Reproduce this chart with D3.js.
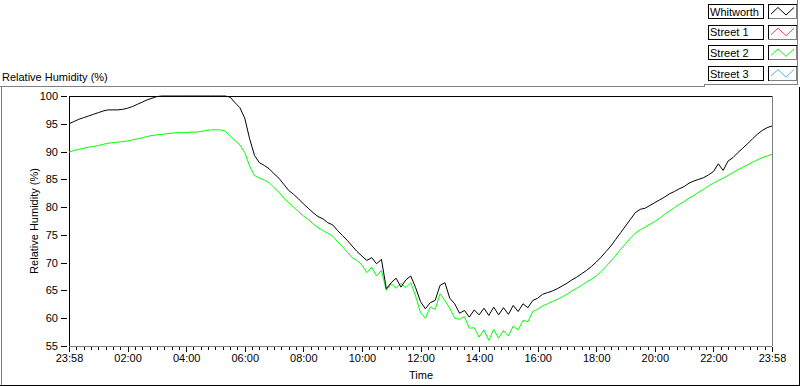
<!DOCTYPE html>
<html>
<head>
<meta charset="utf-8">
<script src="https://cdn.jsdelivr.net/npm/d3@7"></script>
<style>
  body { margin: 0; background: #fff; }
  svg { display: block; font-family: "Liberation Sans", Arial, sans-serif; font-size: 11px; }
</style>
</head>
<body>
<svg id="chart" width="800" height="386"></svg>
<script>

// readings every 10 minutes, 23:58 -> 23:58
const stepMinutes = 10;

const whitworth = [
  95.0, 95.4, 95.8, 96.1, 96.4, 96.7, 97.0, 97.3, 97.5, 97.5, 97.5, 97.6,
  97.8, 98.1, 98.5, 98.9, 99.3, 99.6, 99.9, 100, 100, 100, 100, 100,
  100, 100, 100, 100, 100, 100, 100, 100, 100, 99.8, 98.8, 97.9,
  96.0, 92.3, 89.3, 88.0, 87.5, 86.9, 86.0, 85.2, 84.1, 83.0, 82.3, 81.5,
  80.6, 79.8, 79.0, 78.3, 77.9, 77.2, 76.8, 75.8, 74.9, 74.0, 73.0, 72.0,
  71.2, 70.4, 70.9, 69.8, 70.6, 65.3, 66.4, 67.2, 65.6, 66.9, 67.6, 65.5,
  63.0, 61.7, 62.8, 63.2, 65.9, 66.4, 63.6, 62.6, 60.9, 61.4, 60.2, 61.5,
  60.6, 61.8, 60.5, 62.0, 60.6, 61.9, 60.7, 62.3, 61.2, 62.6, 61.9, 63.2,
  63.6, 64.3, 64.6, 64.9, 65.3, 65.8, 66.3, 66.9, 67.4, 68.0, 68.6, 69.3,
  70.1, 71.0, 72.0, 73.0, 74.2, 75.4, 76.6, 77.8, 79.0, 79.6, 79.8, 80.3,
  80.8, 81.3, 81.8, 82.4, 82.8, 83.3, 83.7, 84.3, 84.7, 85.0, 85.3, 85.8,
  86.4, 87.8, 86.6, 88.3, 88.9, 89.8, 90.6, 91.4, 92.3, 93.1, 93.8, 94.3,
  94.6
];

const street2 = [
  89.9, 90.2, 90.4, 90.6, 90.8, 90.9, 91.1, 91.3, 91.5, 91.6, 91.7, 91.8,
  91.9, 92.1, 92.3, 92.5, 92.7, 92.9, 93.0, 93.1, 93.2, 93.3, 93.4, 93.4,
  93.4, 93.5, 93.5, 93.6, 93.8, 93.9, 93.9, 93.9, 93.7, 92.8, 92.0, 91.2,
  89.8, 87.4, 85.7, 85.2, 84.9, 84.4, 83.5, 82.7, 81.6, 80.8, 80.0, 79.2,
  78.4, 77.8, 77.0, 76.3, 75.8, 75.3, 74.8, 73.8, 72.9, 71.9, 70.9, 70.4,
  69.6, 68.2, 69.2, 67.6, 68.6, 65.0, 66.2, 65.4, 66.3, 65.5, 66.4, 64.0,
  61.0, 60.0, 62.0, 61.6, 64.4, 63.2, 61.8, 60.0, 59.8, 60.3, 58.2, 58.3,
  56.6, 57.9, 56.0, 58.0, 56.4, 57.8, 56.8, 58.6, 57.9, 59.6, 59.4, 61.2,
  61.6, 62.2, 62.6, 63.0, 63.4, 63.8, 64.3, 64.9, 65.4, 65.9, 66.5, 67.0,
  67.6, 68.4, 69.3, 70.3, 71.3, 72.4, 73.4, 74.4, 75.3, 75.9, 76.4, 76.9,
  77.4, 78.0, 78.7, 79.3, 79.9, 80.5, 81.0, 81.6, 82.1, 82.7, 83.2, 83.8,
  84.3, 84.8, 85.2, 85.7, 86.2, 86.7, 87.2, 87.6, 88.1, 88.5, 88.9, 89.2,
  89.5
];

const timeLabels = ['23:58', '02:00', '04:00', '06:00', '08:00', '10:00', '12:00',
                    '14:00', '16:00', '18:00', '20:00', '22:00', '23:58'];
const yTicks = [55, 60, 65, 70, 75, 80, 85, 90, 95, 100];

const legendNames = ['Whitworth', 'Street 1', 'Street 2', 'Street 3'];
const legendColors = ['#000000', '#f04848', '#00ff00', '#40b0ff'];

const svg = d3.select('#chart');
const gray = '#808080';

const x = d3.scaleLinear().domain([0, 24]).range([69, 772]);
const y = d3.scaleLinear().domain([55, 100]).range([346, 96]);

function hline(x1, x2, yy, color){
  svg.append('line').attr('x1', x1).attr('x2', x2).attr('y1', yy).attr('y2', yy)
    .attr('stroke', color).attr('shape-rendering', 'crispEdges');
}
function vline(xx, y1, y2, color){
  svg.append('line').attr('x1', xx).attr('x2', xx).attr('y1', y1).attr('y2', y2)
    .attr('stroke', color).attr('shape-rendering', 'crispEdges');
}

svg.append('rect').attr('width', 800).attr('height', 386).attr('fill', '#fff');

// outer panel frame
hline(0, 704, 86.5, gray);
vline(704.5, 84, 87, gray);
hline(704, 797, 84.5, gray);
vline(797.5, 0, 85, gray);
vline(1.5, 86, 386, gray);
hline(0, 800, 385.5, '#000');
vline(799.5, 87, 386, '#000');

svg.append('text').attr('x', 2).attr('y', 81).text('Relative Humidity (%)');

// plot frame
hline(69, 772, 96.5, '#000');
vline(772.5, 96, 346, gray);

// x axis: minor ticks every 15 min, labelled ticks every 2 h
const xMinor = svg.append('g').attr('transform', 'translate(0,346)')
  .call(d3.axisBottom(x).tickValues(d3.range(0, 24.01, 0.25)).tickSize(3).tickFormat(''));
xMinor.select('.domain').remove();

const xAxis = svg.append('g').attr('transform', 'translate(0,346)')
  .call(d3.axisBottom(x).tickValues(d3.range(0, 25, 2)).tickSize(5).tickPadding(3)
    .tickFormat((d, i) => timeLabels[i]));
xAxis.select('.domain').attr('stroke', gray).attr('d', 'M69,0.5H772');

svg.selectAll('.tick line').attr('transform', 'translate(0,1)').attr('shape-rendering', 'crispEdges');

// y axis
const yAxis = svg.append('g').attr('transform', 'translate(69,0)')
  .call(d3.axisLeft(y).tickValues(yTicks).tickSize(0).tickPadding(11));
yAxis.select('.domain').attr('stroke', '#000').attr('d', 'M0.5,96V346');
yAxis.selectAll('.tick').append('line')
  .attr('x1', -8).attr('x2', -2).attr('stroke', '#000').attr('shape-rendering', 'crispEdges');

svg.selectAll('.tick text').attr('font-family', '"Liberation Sans", Arial, sans-serif')
  .attr('font-size', 11).attr('fill', '#000');

svg.append('text').attr('x', 421).attr('y', 379).attr('text-anchor', 'middle').text('Time');
svg.append('text').attr('transform', 'translate(38,221) rotate(-90)')
  .attr('text-anchor', 'middle').text('Relative Humidity (%)');

// series
const line = d3.line()
  .x((d, i) => x(i * stepMinutes / 60))
  .y(d => y(d));

svg.append('path').datum(street2).attr('d', line)
  .attr('fill', 'none').attr('stroke', legendColors[2]).attr('stroke-width', 1);
svg.append('path').datum(whitworth).attr('d', line)
  .attr('fill', 'none').attr('stroke', legendColors[0]).attr('stroke-width', 1);

// legend
const legend = svg.append('g');
legendNames.forEach(function(name, i){
  const y0 = 4 + i * 20.7;
  const item = legend.append('g').attr('transform', `translate(0,${y0})`);

  item.append('rect').attr('x', 708.5).attr('y', 0.5).attr('width', 55).attr('height', 14)
    .attr('fill', '#fff').attr('stroke', '#000').attr('shape-rendering', 'crispEdges');
  item.append('text').attr('x', 710).attr('y', 11.5).text(name);

  item.append('rect').attr('x', 768.5).attr('y', 0.5).attr('width', 28).attr('height', 14)
    .attr('fill', '#fff').attr('stroke', gray).attr('shape-rendering', 'crispEdges');
  item.append('path').attr('d', 'M768.5,14.5V0.5H796.5')
    .attr('fill', 'none').attr('stroke', '#000').attr('shape-rendering', 'crispEdges');
  item.append('path')
    .attr('d', d3.line()([[771, 10], [778, 3.5], [786, 11], [794, 3.5]]))
    .attr('fill', 'none').attr('stroke', legendColors[i]);
});

</script>
</body>
</html>
